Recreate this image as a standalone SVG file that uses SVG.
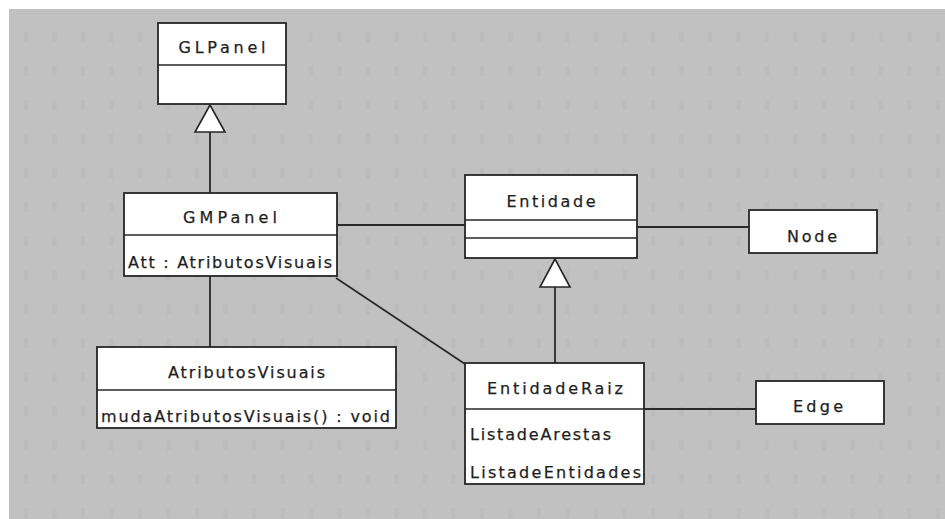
<svg xmlns="http://www.w3.org/2000/svg" width="945" height="519" viewBox="0 0 945 519">
  <defs>
    <style>
      .box { fill: #ffffff; stroke: #262626; stroke-width: 1.8; }
      .sep { stroke: #262626; stroke-width: 1.6; fill: none; }
      .link { stroke: #2a2a2a; stroke-width: 1.8; fill: none; }
      .gen { fill: #ffffff; stroke: #262626; stroke-width: 1.6; }
      .t { font-family: "DejaVu Sans", "Liberation Sans", sans-serif; font-size: 16px; fill: #1e1e1e; stroke: #1e1e1e; stroke-width: 0.25; }
      .c { text-anchor: middle; }
    </style>
    <!-- faint grid marks on the canvas -->
    <pattern id="grid" x="24" y="32" width="28.5" height="34" patternUnits="userSpaceOnUse">
      <rect x="0" y="0" width="4" height="10" fill="#b8b8b8"/>
    </pattern>
  </defs>

  <!-- canvas -->
  <rect x="0" y="0" width="945" height="519" fill="#ffffff"/>
  <rect x="9" y="9" width="936" height="510" fill="#c1c1c1"/>
  <rect x="9" y="9" width="936" height="510" fill="url(#grid)" opacity="0.6"/>

  <!-- connectors -->
  <g id="connectors">
    <!-- GMPanel generalises GLPanel -->
    <line class="link" x1="210" y1="132" x2="210" y2="193"/>
    <polygon class="gen" points="210,105 195,132 225,132"/>
    <!-- GMPanel to AtributosVisuais -->
    <line class="link" x1="210" y1="276" x2="210" y2="347"/>
    <!-- GMPanel to Entidade -->
    <line class="link" x1="337" y1="225" x2="465" y2="225"/>
    <!-- GMPanel to EntidadeRaiz -->
    <line class="link" x1="336" y1="278" x2="465" y2="364"/>
    <!-- Entidade to Node -->
    <line class="link" x1="637" y1="227" x2="749" y2="227"/>
    <!-- EntidadeRaiz generalises Entidade -->
    <line class="link" x1="555" y1="287" x2="555" y2="363"/>
    <polygon class="gen" points="555,259 540,287 570,287"/>
    <!-- EntidadeRaiz to Edge -->
    <line class="link" x1="644" y1="409" x2="756" y2="409"/>
  </g>

  <g id="GLPanel">
    <rect class="box" x="158" y="23" width="128" height="81"/>
    <line class="sep" x1="158" y1="65" x2="286" y2="65"/>
    <text class="t c" x="222" y="53" textLength="87" lengthAdjust="spacing">GLPanel</text>
  </g>

  <g id="GMPanel">
    <rect class="box" x="124" y="193" width="213" height="83"/>
    <line class="sep" x1="124" y1="235" x2="337" y2="235"/>
    <text class="t c" x="230" y="223" textLength="94" lengthAdjust="spacing">GMPanel</text>
    <text class="t" x="128" y="268" textLength="204" lengthAdjust="spacing">Att : AtributosVisuais</text>
  </g>

  <g id="AtributosVisuais">
    <rect class="box" x="97" y="347" width="299" height="81"/>
    <line class="sep" x1="97" y1="390" x2="396" y2="390"/>
    <text class="t c" x="246.5" y="378" textLength="157" lengthAdjust="spacing">AtributosVisuais</text>
    <text class="t" x="101" y="422" textLength="289" lengthAdjust="spacing">mudaAtributosVisuais() : void</text>
  </g>

  <g id="Entidade">
    <rect class="box" x="465" y="175" width="172" height="83"/>
    <line class="sep" x1="465" y1="220" x2="637" y2="220"/>
    <line class="sep" x1="465" y1="238" x2="637" y2="238"/>
    <text class="t c" x="551" y="207" textLength="89" lengthAdjust="spacing">Entidade</text>
  </g>

  <g id="Node">
    <rect class="box" x="749" y="210" width="128" height="43"/>
    <text class="t c" x="812" y="242" textLength="50" lengthAdjust="spacing">Node</text>
  </g>

  <g id="EntidadeRaiz">
    <rect class="box" x="465" y="363" width="179" height="121"/>
    <line class="sep" x1="465" y1="409" x2="644" y2="409"/>
    <text class="t c" x="555" y="394" textLength="136" lengthAdjust="spacing">EntidadeRaiz</text>
    <text class="t" x="470" y="440" textLength="141" lengthAdjust="spacing">ListadeArestas</text>
    <text class="t" x="470" y="478" textLength="171" lengthAdjust="spacing">ListadeEntidades</text>
  </g>

  <g id="Edge">
    <rect class="box" x="756" y="381" width="128" height="43"/>
    <text class="t c" x="818" y="412" textLength="50" lengthAdjust="spacing">Edge</text>
  </g>
</svg>
